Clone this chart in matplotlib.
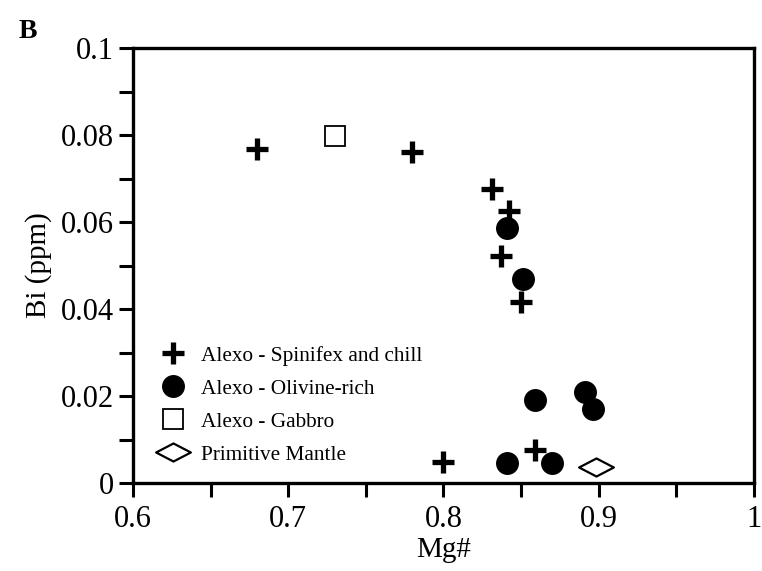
import matplotlib.pyplot as plt
from matplotlib.path import Path

plt.rcParams['font.family'] = ['Liberation Serif', 'DejaVu Serif']

# Alexo komatiite samples, Bi (ppm) vs Mg#
spin_mg = [0.68, 0.78, 0.831, 0.842, 0.837, 0.850, 0.80, 0.859]
spin_bi = [0.0767, 0.0760, 0.0677, 0.0625, 0.0523, 0.0417, 0.0048, 0.0077]

oliv_mg = [0.841, 0.851, 0.859, 0.891, 0.896, 0.841, 0.870]
oliv_bi = [0.0587, 0.0470, 0.0190, 0.0210, 0.0169, 0.0047, 0.0046]

gab_mg = [0.730]
gab_bi = [0.0797]

pm_mg = [0.898]
pm_bi = [0.0036]

# wide diamond for primitive mantle
diamond = Path([(-1, 0), (0, 0.52), (1, 0), (0, -0.52), (-1, 0)],
               [Path.MOVETO, Path.LINETO, Path.LINETO, Path.LINETO, Path.CLOSEPOLY])

fig = plt.figure(figsize=(7.62, 5.71), dpi=100)
ax = fig.add_axes([0.1745, 0.1541, 0.815, 0.7618])

ax.plot(spin_mg, spin_bi, ls='none', marker='+', ms=16, mew=3.8, color='black',
        label='Alexo - Spinifex and chill')
ax.plot(oliv_mg, oliv_bi, ls='none', marker='o', ms=15.5, color='black',
        label='Alexo - Olivine-rich')
ax.plot(gab_mg, gab_bi, ls='none', marker='s', ms=14, mfc='white', mec='black', mew=1.3,
        label='Alexo - Gabbro')
ax.plot(pm_mg, pm_bi, ls='none', marker=diamond, ms=25, mfc='white', mec='black', mew=1.6,
        label='Primitive Mantle')

ax.set_xlim(0.6, 1.0)
ax.set_ylim(0, 0.1)
ax.set_xticks([0.6, 0.7, 0.8, 0.9, 1.0])
ax.set_xticklabels(['0.6', '0.7', '0.8', '0.9', '1'])
ax.set_yticks([0, 0.02, 0.04, 0.06, 0.08, 0.1])
ax.set_yticklabels(['0', '0.02', '0.04', '0.06', '0.08', '0.1'])
ax.set_xticks([0.65, 0.75, 0.85, 0.95], minor=True)
ax.set_yticks([0.01, 0.03, 0.05, 0.07, 0.09], minor=True)

ax.tick_params(which='both', direction='out', length=10, width=2.2, labelsize=22,
               top=False, right=False)
ax.tick_params(axis='x', pad=6)
ax.tick_params(axis='y', pad=4)
for s in ax.spines.values():
    s.set_linewidth(2.4)

ax.set_xlabel('Mg#', fontsize=21, labelpad=2)
ax.set_ylabel('Bi (ppm)', fontsize=21, labelpad=6)

ax.legend(loc='upper left', bbox_to_anchor=(0.0065, 0.35), frameon=False, fontsize=15.3,
          handletextpad=0.3, labelspacing=0.62, borderaxespad=0.3, handlelength=2.0)

fig.text(0.025, 0.934, 'B', fontsize=20, fontweight='bold')

fig.savefig('out.png', dpi=100)
